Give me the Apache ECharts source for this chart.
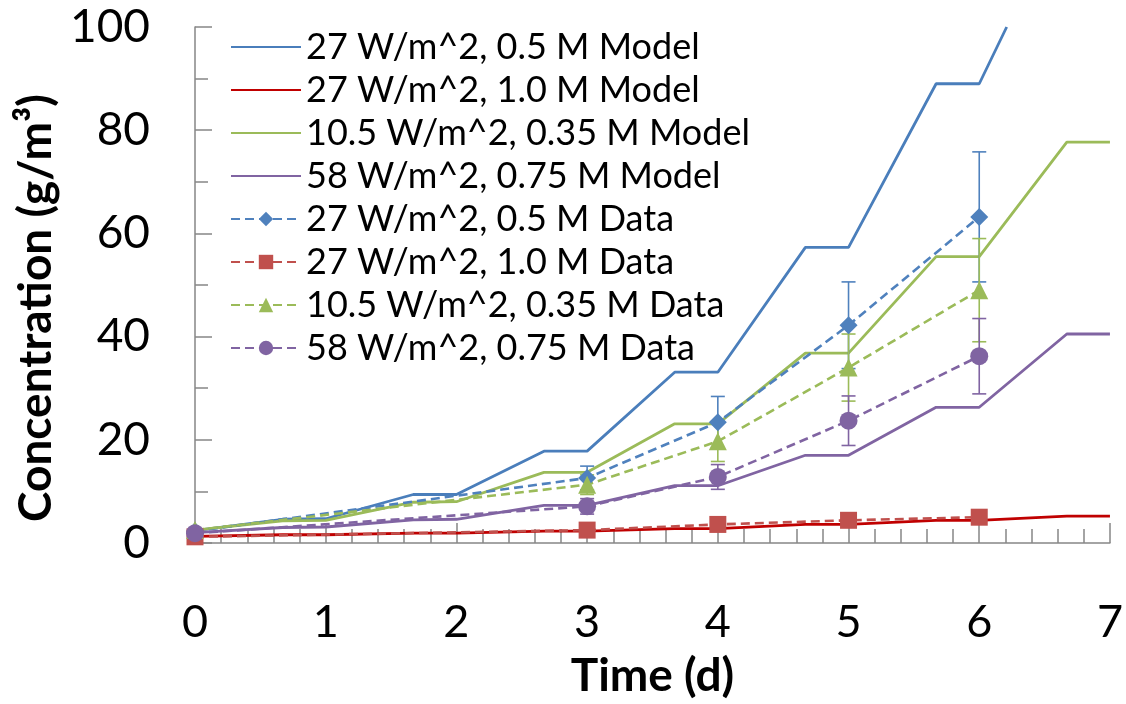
<!DOCTYPE html>
<html>
<head>
<meta charset="utf-8">
<script src="https://cdn.jsdelivr.net/npm/echarts@6/dist/echarts.min.js"></script>
<style>
html,body{margin:0;padding:0;background:#fff;}
#chart{width:1126px;height:704px;}
</style>
</head>
<body>
<div id="chart"></div>
<script>
// ---- data ----
const seriesNames = [
  '27 W/m^2, 0.5 M Model',
  '27 W/m^2, 1.0 M Model',
  '10.5 W/m^2, 0.35 M Model',
  '58 W/m^2, 0.75 M Model',
  '27 W/m^2, 0.5 M Data',
  '27 W/m^2, 1.0 M Data',
  '10.5 W/m^2, 0.35 M Data',
  '58 W/m^2, 0.75 M Data'
];
// model curves: [time (d), concentration]
const modelBlue = [[0,2.4],[0.67,4.6],[1.0,4.7],[1.67,9.4],[2.0,9.4],[2.67,17.8],[3.0,17.8],[3.67,33.1],[4.0,33.1],[4.67,57.3],[5.0,57.3],[5.67,89.0],[6.0,89.0],[6.21,100]];
const modelRed = [[0,1.3],[0.67,1.6],[1.0,1.6],[1.67,1.9],[2.0,1.9],[2.67,2.3],[3.0,2.3],[3.67,2.8],[4.0,2.8],[4.67,3.6],[5.0,3.6],[5.67,4.4],[6.0,4.4],[6.67,5.2],[7.0,5.2]];
const modelGreen = [[0,2.5],[0.67,4.3],[1.0,4.4],[1.67,7.9],[2.0,8.0],[2.67,13.7],[3.0,13.7],[3.67,23.1],[4.0,23.1],[4.67,36.8],[5.0,36.8],[5.67,55.5],[6.0,55.5],[6.67,77.7],[7.0,77.7]];
const modelPurple = [[0,2.0],[0.67,3.0],[1.0,3.1],[1.67,4.5],[2.0,4.6],[2.67,7.3],[3.0,7.3],[3.67,11.1],[4.0,11.1],[4.67,17.0],[5.0,17.0],[5.67,26.3],[6.0,26.3],[6.67,40.5],[7.0,40.5]];

const dataDays = [0, 3, 4, 5, 6];
const dataBlue = [2.3, 12.6, 23.4, 42.2, 63.2];
const dataRed = [1.2, 2.5, 3.6, 4.4, 5.0];
const dataGreen = [2.5, 11.3, 19.7, 34.0, 49.0];
const dataPurple = [1.9, 7.1, 12.8, 23.7, 36.2];
const errBlue = [0, 2.3, 5.0, 8.4, 12.6];
const errRed = [0, 0, 0, 0, 0];
const errGreen = [0, 1.9, 3.9, 6.5, 10.0];
const errPurple = [0, 1.5, 2.4, 4.8, 7.3];

const xTicks = [0, 1, 2, 3, 4, 5, 6, 7];
const yTicks = [0, 20, 40, 60, 80, 100];
const xTitle = 'Time (d)';
const yTitle = 'Concentration (g/m³)';

// ---- styles ----
const C = {
  blueM: '#4A7EBB', redM: '#C00000', greenM: '#9BBB59', purpleM: '#8064A2',
  blueD: '#4F81BD', redD: '#C0504D', greenD: '#9BBB59', purpleD: '#8064A2'
};
const FONT = 'Lato, "Open Sans", sans-serif';

function pairs(xs, ys) { return xs.map((x, i) => [x, ys[i]]); }
function errData(xs, ys, es) {
  return xs.map((x, i) => [x, ys[i] - es[i], ys[i] + es[i]]).filter((d, i) => es[i] > 0);
}

function modelSeries(name, data, color) {
  return {
    name, type: 'line', data, showSymbol: false, symbol: 'none',
    lineStyle: { color, width: 2.8 }, itemStyle: { color },
    animation: false, z: 2, clip: true
  };
}
function dataSeries(name, xs, ys, color, symbol, size) {
  return {
    name, type: 'line', data: pairs(xs, ys), symbol, symbolSize: size,
    showAllSymbol: true,
    lineStyle: { color, width: 2.6, type: [9, 5] },
    itemStyle: { color, borderWidth: 0 },
    animation: false, z: 4
  };
}
function errSeries(xs, ys, es, color) {
  return {
    type: 'custom', data: errData(xs, ys, es), z: 3, animation: false, silent: true,
    encode: { x: 0, y: [1, 2] },
    renderItem: function (params, api) {
      const x = api.value(0);
      const lo = api.coord([x, api.value(1)]);
      const hi = api.coord([x, api.value(2)]);
      const hw = 7;
      const st = { stroke: color, lineWidth: 1.6 };
      return {
        type: 'group',
        children: [
          { type: 'line', shape: { x1: lo[0], y1: lo[1], x2: hi[0], y2: hi[1] }, style: st },
          { type: 'line', shape: { x1: lo[0] - hw, y1: lo[1], x2: lo[0] + hw, y2: lo[1] }, style: st },
          { type: 'line', shape: { x1: hi[0] - hw, y1: hi[1], x2: hi[0] + hw, y2: hi[1] }, style: st }
        ]
      };
    }
  };
}

const legendData = seriesNames.map((n, i) => i < 4 ? { name: n, itemStyle: { opacity: 0 } } : { name: n });

const axisColor = '#868686';
const chart = echarts.init(document.getElementById('chart'), null, { renderer: 'canvas' });
chart.setOption({
  backgroundColor: '#ffffff',
  animation: false,
  grid: { left: 195, right: 16, top: 27, bottom: 153, containLabel: false },
  xAxis: {
    type: 'value', min: xTicks[0], max: xTicks[xTicks.length - 1], interval: 1,
    axisLine: { show: true, onZero: false, lineStyle: { color: axisColor, width: 1.5 } },
    axisTick: { show: true, inside: true, length: 20, lineStyle: { color: axisColor, width: 1.5 } },
    minorTick: { show: true, splitNumber: 5, length: 14, lineStyle: { color: axisColor, width: 1.5 } },
    splitLine: { show: false },
    axisLabel: { color: '#000', fontFamily: FONT, fontSize: 45, margin: 57, lineHeight: 45 },
    name: xTitle, nameLocation: 'middle', nameGap: 110,
    nameTextStyle: { color: '#000', fontFamily: FONT, fontWeight: 'bold', fontSize: 46 }
  },
  yAxis: {
    type: 'value', min: yTicks[0], max: yTicks[yTicks.length - 1], interval: 20,
    axisLine: { show: true, lineStyle: { color: axisColor, width: 1.5 } },
    axisTick: { show: true, inside: true, length: 17, lineStyle: { color: axisColor, width: 1.5 } },
    minorTick: { show: true, splitNumber: 2, length: 13, lineStyle: { color: axisColor, width: 1.5 } },
    splitLine: { show: false },
    axisLabel: { color: '#000', fontFamily: FONT, fontSize: 46, margin: 45 }
  },
  graphic: [{
    type: 'text', x: 36, y: 308, rotation: Math.PI / 2,
    style: {
      text: yTitle, fill: '#000', font: 'bold 46px ' + FONT,
      textAlign: 'center', textVerticalAlign: 'middle'
    }
  }],
  legend: {
    show: true, orient: 'vertical', left: 225, top: 24,
    itemWidth: 70, itemHeight: 18, itemGap: 7,
    data: legendData,
    textStyle: { color: '#000', fontFamily: FONT, fontSize: 36, lineHeight: 36 },
    selectedMode: false
  },
  series: [
    modelSeries(seriesNames[0], modelBlue, C.blueM),
    modelSeries(seriesNames[1], modelRed, C.redM),
    modelSeries(seriesNames[2], modelGreen, C.greenM),
    modelSeries(seriesNames[3], modelPurple, C.purpleM),
    errSeries(dataDays, dataBlue, errBlue, C.blueD),
    errSeries(dataDays, dataRed, errRed, C.redD),
    errSeries(dataDays, dataGreen, errGreen, C.greenD),
    errSeries(dataDays, dataPurple, errPurple, C.purpleD),
    dataSeries(seriesNames[4], dataDays, dataBlue, C.blueD, 'diamond', 18),
    dataSeries(seriesNames[5], dataDays, dataRed, C.redD, 'rect', 17),
    dataSeries(seriesNames[6], dataDays, dataGreen, C.greenD, 'triangle', 18),
    dataSeries(seriesNames[7], dataDays, dataPurple, C.purpleD, 'circle', 18)
  ]
});
</script>
</body>
</html>
